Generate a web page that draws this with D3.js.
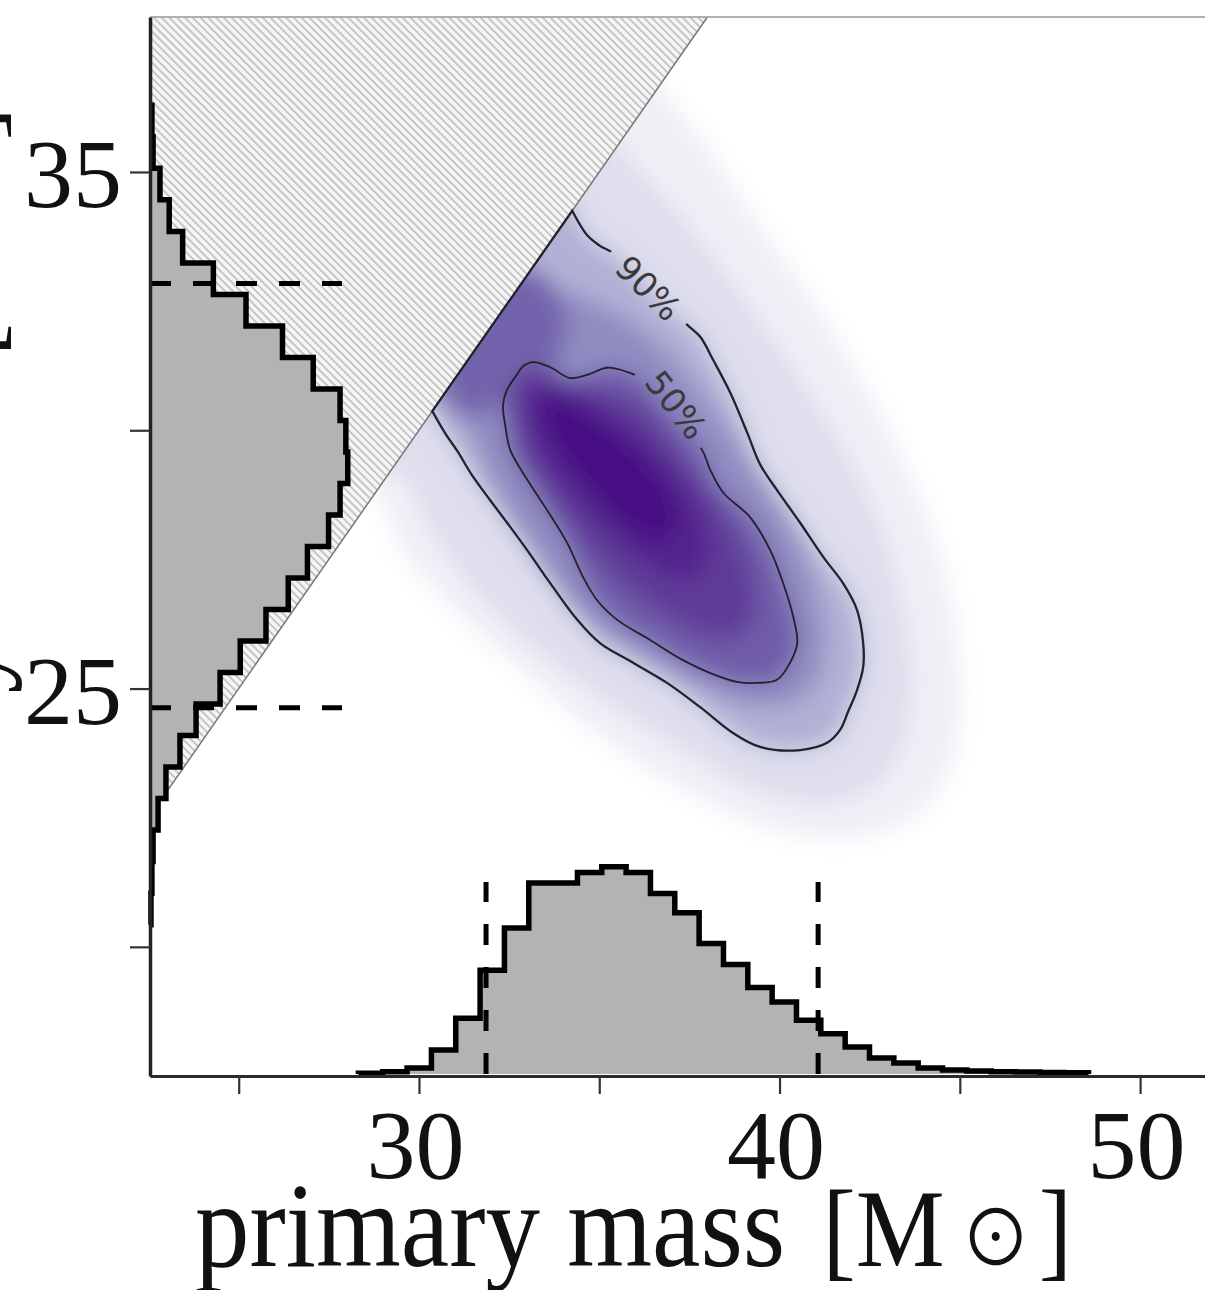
<!DOCTYPE html>
<html>
<head>
<meta charset="utf-8">
<script src="https://cdn.jsdelivr.net/npm/d3@7"></script>
<style>
  html, body { margin: 0; padding: 0; background: #fff; }
  svg { display: block; }
</style>
</head>
<body>
<svg id="chart" width="1205" height="1290"></svg>
<script>
// ---------- axes ----------
const xDomain = [22.54, 51.8];   // primary mass shown
const yDomain = [17.5, 38.0];    // secondary mass shown
const xTicks = [25, 30, 35, 40, 45, 50];
const xTickLabels = ["", "30", "", "40", "", "50"];
const yTicks = [20, 25, 30, 35];
const yTickLabels = ["", "25", "", "35"];

// ---------- marginal histograms (relative density) ----------
const m1BinStart = 28.32, m1BinWidth = 0.675;
const m1Hist = [0.004, 0.012, 0.031, 0.125, 0.29, 0.54, 0.76, 0.995,
                0.995, 1.05, 1.08, 1.05, 0.94, 0.84, 0.68, 0.57, 0.45, 0.375,
                0.28, 0.21, 0.14, 0.083, 0.057, 0.031, 0.021, 0.016, 0.012, 0.01,
                0.008, 0.006];
const m1Quantiles = [31.86, 41.07];

const m2BinStart = 20.43, m2BinWidth = 0.61;
const m2Hist = [0.005, 0.01, 0.016, 0.042, 0.083, 0.156, 0.24, 0.365, 0.47, 0.604,
                0.72, 0.82, 0.93, 0.99, 1.03, 1.02, 0.99, 0.85, 0.69, 0.50,
                0.33, 0.17, 0.10, 0.052, 0.016, 0.01];
const m2Quantiles = [24.63, 32.84];
const quantileLineLevel = 1.0;

// ---------- credible-region contours (m1, m2) ----------
const contour90 = [[34.25,34.25],[34.66,33.78],[35.02,33.57],[35.38,33.43],[36.41,32.72],
  [37.44,32.04],[37.80,31.81],[38.16,31.36],[38.63,30.73],[39.10,29.96],[39.46,29.34],
  [39.93,28.84],[40.57,28.21],[41.21,27.55],[41.76,27.04],[42.15,26.52],[42.32,25.88],
  [42.32,25.42],[42.15,24.97],[41.90,24.55],[41.68,24.20],[41.32,23.95],[40.57,23.81],
  [39.46,23.87],[38.71,24.14],[37.80,24.64],[36.88,25.11],[35.94,25.50],[35.02,25.88],
  [34.39,26.33],[33.64,27.04],[33.00,27.68],[32.53,28.13],[31.97,28.65],[31.47,29.13],
  [31.08,29.58],[30.72,29.95],[30.37,30.37]];
const contour50 = [[32.53,29.62],[32.39,30.10],[32.33,30.49],[32.44,30.78],[32.67,31.03],
  [32.89,31.24],[33.17,31.32],[33.64,31.22],[34.19,31.01],[34.66,31.07],[35.22,31.21],
  [35.77,31.13],[36.08,31.03],[36.97,30.35],[37.85,29.62],[38.08,29.23],[38.44,28.79],
  [39.18,28.32],[39.74,27.68],[40.10,27.04],[40.38,26.39],[40.49,25.88],[40.29,25.50],
  [39.93,25.17],[39.38,25.11],[38.82,25.13],[38.08,25.30],[37.32,25.55],[36.41,25.94],
  [35.50,26.33],[34.94,26.71],[34.55,27.16],[34.11,27.82],[33.64,28.36],[33.22,28.81],
  [32.80,29.27]];
const contourLabels = ["90%", "50%"];
const contourLabelAt = [[36.36, 32.75], [37.13, 30.49]];

// ---------- posterior density level sets (m1, m2), outer to inner ----------
const haloOuter = [[34.47,37.94],[37.24,36.20],[39.18,34.26],[41.13,32.33],[43.07,30.01],
  [44.45,27.68],[45.01,25.55],[44.87,23.71],[43.95,22.61],[42.29,22.11],[40.01,22.22],
  [37.80,22.84],[35.30,23.91],[33.08,25.17],[31.00,26.48],[29.48,27.68],[28.86,28.74],
  [27.53,29.22]];
const haloInner = [[33.36,36.78],[36.13,35.04],[37.80,33.69],[39.46,32.14],[41.13,30.40],
  [42.51,28.66],[43.34,26.91],[43.68,25.36],[43.48,24.01],[42.73,23.14],[41.40,22.79],
  [39.46,23.00],[37.52,23.72],[35.30,24.69],[33.08,25.85],[31.42,27.01],[30.31,28.07],
  [29.61,29.04],[28.09,29.62]];
const region90 = contour90.concat([[29.6,31.3],[33.4,35.2]]);
const ridge = [[31.97,32.91],[33.91,32.72],[35.58,32.23],[36.97,31.46],[38.08,30.49],
  [39.13,29.43],[40.29,28.17],[40.99,27.01],[41.26,25.94],[40.99,25.07],[40.29,24.72],
  [39.18,24.68],[37.80,25.05],[36.41,25.55],[35.02,26.13],[33.91,26.85],[33.08,27.68],
  [32.33,28.55],[31.75,29.42],[31.28,30.10],[30.03,30.97]];
const edgeBlob = [[30.6,31.6],[32.4,33.2],[33.6,32.9],[34.1,32.1],[33.7,31.2],
  [32.9,30.8],[32.0,30.4],[31.2,30.3]];
const core1 = [[32.75,31.13],[33.91,30.97],[35.02,30.78],[36.13,30.49],[37.24,29.52],
  [38.35,28.55],[39.04,27.58],[39.32,26.71],[39.04,26.13],[38.21,25.98],[36.96,26.36],
  [35.58,27.06],[34.61,27.78],[33.78,28.55],[33.08,29.23],[32.69,30.10]];
const core2 = [[33.08,30.88],[34.05,30.75],[35.16,30.40],[36.27,29.82],[37.38,28.95],
  [37.94,28.07],[37.94,27.39],[37.38,27.10],[36.41,27.39],[35.30,27.97],[34.33,28.65],
  [33.50,29.42],[33.00,30.20]];
const peak = [[33.59,30.68],[34.33,30.49],[35.30,30.00],[36.27,29.42],[37.02,28.65],
  [37.10,28.07],[36.55,27.88],[35.72,28.17],[34.89,28.75],[34.05,29.42],[33.50,30.10]];
const densityLevels = [0.1, 0.22, 0.42, 0.56, 0.7, 0.72, 0.82, 0.89, 0.96];
const densityShapes = [haloOuter, haloInner, region90, ridge, edgeBlob, contour50, core1, core2, peak];

// ---------- drawing ----------
const W = 1205, H = 1290;
const svg = d3.select("#chart");
const defs = svg.append("defs");

const x = d3.scaleLinear().domain(xDomain).range([150, 1205]);
const y = d3.scaleLinear().domain(yDomain).range([1076, 17]);
const histLen = d3.scaleLinear().domain([0, 1]).range([0, 192]);

const xl = x.range()[0], xr = x.range()[1];
const yb = y.range()[0], yt = y.range()[1];

// region where m2 > m1 (excluded), and the allowed region below the diagonal
const diagLow = [x(xDomain[0]), y(xDomain[0])];
const diagHigh = [x(yDomain[1]), y(yDomain[1])];

const hatch = defs.append("pattern").attr("id", "hatch")
  .attr("patternUnits", "userSpaceOnUse").attr("width", 5.5).attr("height", 5.5)
  .attr("patternTransform", "rotate(-45)");
hatch.append("rect").attr("width", 5.5).attr("height", 5.5).attr("fill", "#f5f5f5");
hatch.append("line").attr("x1", 2.75).attr("y1", 0).attr("x2", 2.75).attr("y2", 5.5)
  .attr("stroke", "#b8b8b8").attr("stroke-width", 1.5);

defs.append("clipPath").attr("id", "allowed")
  .append("polygon")
  .attr("points", [[xl, yb], [xr, yb], [xr, yt], diagHigh, diagLow].map(p => p.join(",")).join(" "));

const soften = defs.append("filter").attr("id", "soften")
  .attr("filterUnits", "userSpaceOnUse").attr("x", 0).attr("y", 0).attr("width", W).attr("height", H);
soften.append("feGaussianBlur").attr("stdDeviation", 11);

svg.append("rect").attr("width", W).attr("height", H).attr("fill", "#fff");

// excluded triangle
svg.append("polygon")
  .attr("points", [[xl, yt], diagHigh, diagLow].map(p => p.join(",")).join(" "))
  .attr("fill", "url(#hatch)");

// density shading
const closedCurve = d3.line().x(d => x(d[0])).y(d => y(d[1])).curve(d3.curveCatmullRomClosed);
const dens = svg.append("g").attr("clip-path", "url(#allowed)")
  .append("g").attr("filter", "url(#soften)");
densityShapes.forEach((shape, i) => {
  dens.append("path").attr("d", closedCurve(shape))
    .attr("fill", d3.interpolatePurples(densityLevels[i]));
});

// m2 = m1 boundary
svg.append("line")
  .attr("x1", diagLow[0]).attr("y1", diagLow[1]).attr("x2", diagHigh[0]).attr("y2", diagHigh[1])
  .attr("stroke", "#777").attr("stroke-width", 1.5);

// contour lines with gaps for inline labels
const labelAngles = [45, 52];
const labelGaps = [104, 98];
const gapMask = defs.append("mask").attr("id", "labelGaps")
  .attr("maskUnits", "userSpaceOnUse").attr("x", 0).attr("y", 0).attr("width", W).attr("height", H);
gapMask.append("rect").attr("width", W).attr("height", H).attr("fill", "#fff");
contourLabelAt.forEach((p, i) => {
  gapMask.append("rect")
    .attr("x", -labelGaps[i] / 2).attr("y", -24).attr("width", labelGaps[i]).attr("height", 48)
    .attr("transform", `translate(${x(p[0])},${y(p[1])}) rotate(${labelAngles[i]})`)
    .attr("fill", "#000");
});
const openCurve = d3.line().x(d => x(d[0])).y(d => y(d[1])).curve(d3.curveCatmullRom);
const lines = svg.append("g").attr("mask", "url(#labelGaps)").attr("fill", "none").attr("stroke", "#22222c");
lines.append("path").attr("d", openCurve(contour90) + "Z").attr("stroke-width", 2.3);
lines.append("path").attr("d", closedCurve(contour50)).attr("stroke-width", 1.8);

contourLabels.forEach((t, i) => {
  const p = contourLabelAt[i];
  svg.append("text")
    .attr("transform", `translate(${x(p[0])},${y(p[1])}) rotate(${labelAngles[i]})`)
    .attr("text-anchor", "middle").attr("dominant-baseline", "central")
    .attr("font-family", "DejaVu Sans").attr("font-size", 34).attr("fill", "#3a3a3a")
    .text(t);
});

// marginal histogram of secondary mass (horizontal, from the left spine)
const leftPts = [[xl, y(m2BinStart)]];
m2Hist.forEach((v, i) => {
  const a = m2BinStart + i * m2BinWidth, b = a + m2BinWidth;
  leftPts.push([xl + histLen(v), y(a)], [xl + histLen(v), y(b)]);
});
leftPts.push([xl, y(m2BinStart + m2Hist.length * m2BinWidth)]);
svg.append("path").attr("d", d3.line()(leftPts) + "Z").attr("fill", "#b3b3b3");
svg.append("path").attr("d", d3.line()(leftPts)).attr("fill", "none")
  .attr("stroke", "#000").attr("stroke-width", 5.5).attr("stroke-linejoin", "miter");

// marginal histogram of primary mass (from the bottom spine)
const botBase = yb - 2;
const botPts = [[x(m1BinStart), botBase]];
m1Hist.forEach((v, i) => {
  const a = m1BinStart + i * m1BinWidth, b = a + m1BinWidth;
  botPts.push([x(a), botBase - histLen(v)], [x(b), botBase - histLen(v)]);
});
botPts.push([x(m1BinStart + m1Hist.length * m1BinWidth), botBase]);
svg.append("path").attr("d", d3.line()(botPts) + "Z").attr("fill", "#b3b3b3");
svg.append("path").attr("d", d3.line()(botPts)).attr("fill", "none")
  .attr("stroke", "#000").attr("stroke-width", 5.5).attr("stroke-linejoin", "miter");

// 90% interval markers
const dash = "21,22";
m2Quantiles.forEach(q => {
  svg.append("line").attr("x1", xl).attr("y1", y(q)).attr("x2", xl + histLen(quantileLineLevel)).attr("y2", y(q))
    .attr("stroke", "#000").attr("stroke-width", 5).attr("stroke-dasharray", dash);
});
m1Quantiles.forEach(q => {
  svg.append("line").attr("x1", x(q)).attr("y1", botBase).attr("x2", x(q)).attr("y2", botBase - histLen(quantileLineLevel))
    .attr("stroke", "#000").attr("stroke-width", 5).attr("stroke-dasharray", dash);
});

// top spine
svg.append("line").attr("x1", xl).attr("y1", yt).attr("x2", xr).attr("y2", yt)
  .attr("stroke", "#b0b0b0").attr("stroke-width", 2);

// axes
const gx = svg.append("g").attr("transform", `translate(0,${yb})`)
  .call(d3.axisBottom(x).tickValues(xTicks).tickFormat((d, i) => xTickLabels[i]).tickSize(18).tickSizeOuter(0));
const gy = svg.append("g").attr("transform", `translate(${xl},0)`)
  .call(d3.axisLeft(y).tickValues(yTicks).tickFormat((d, i) => yTickLabels[i]).tickSize(20).tickSizeOuter(0));
gx.select(".domain").attr("stroke", "#2a2a2a").attr("stroke-width", 3);
gy.select(".domain").attr("stroke", "#222").attr("stroke-width", 3.5);
[gx, gy].forEach(g => {
  g.selectAll(".tick line").attr("stroke", "#333").attr("stroke-width", 2.2);
  g.selectAll("text").attr("font-family", "Liberation Serif").attr("font-size", 98).attr("fill", "#111");
});
gx.selectAll("text").attr("y", 102).attr("dy", 0).attr("x", -4);
gy.selectAll("text").attr("x", -28).attr("y", 35).attr("dy", 0).attr("text-anchor", "end");

// axis titles
function axisTitle(sel, name) {
  sel.attr("font-family", "Liberation Serif").attr("fill", "#111");
  sel.append("tspan").attr("font-size", 109).text(name + " ");
  sel.append("tspan").attr("font-size", 100).attr("dx", 10).text("[M");
  sel.append("tspan").attr("font-size", 70).attr("font-family", "Noto Sans CJK SC")
    .attr("dx", 16).text("\u2299");
  sel.append("tspan").attr("font-size", 100).attr("dx", 8).text("]");
}
axisTitle(svg.append("text").attr("transform", "translate(195,1266) scale(1,1.1)"), "primary mass");
axisTitle(svg.append("text").attr("text-anchor", "end")
  .attr("transform", "translate(-4,107) rotate(-90) scale(1,1.1)"), "secondary mass");
</script>
</body>
</html>
